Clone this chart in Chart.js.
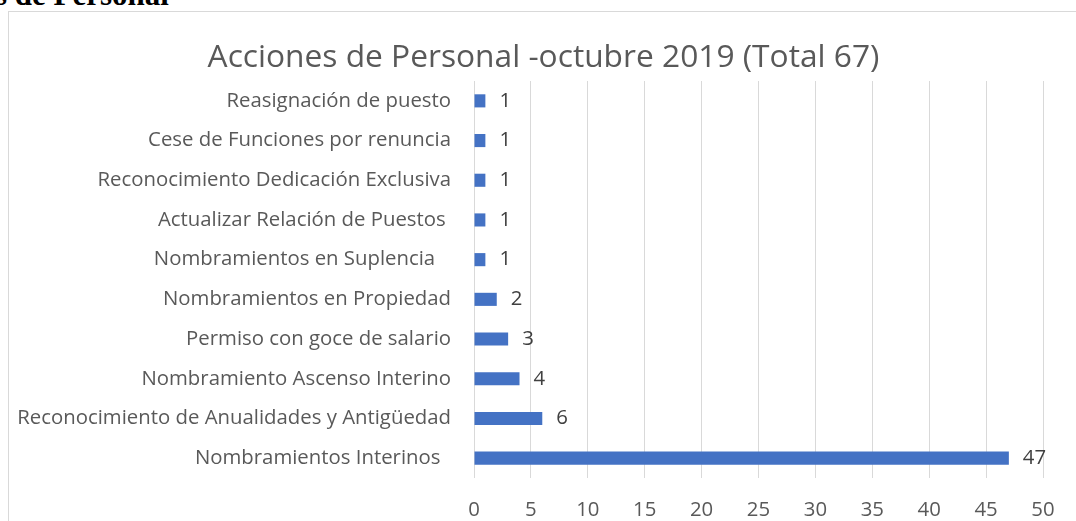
<!DOCTYPE html>
<html>
<head>
<meta charset="utf-8">
<script src="https://cdn.jsdelivr.net/npm/chart.js@4.4.1/dist/chart.umd.min.js"></script>
<style>
html,body{margin:0;padding:0;width:1076px;height:521px;overflow:hidden;background:#fff;}
#heading{position:absolute;left:-5px;top:-21px;font:bold 31px "Liberation Serif",serif;line-height:1;color:#000;white-space:nowrap;}
#box{position:absolute;left:8px;top:11px;width:1070px;height:530px;border-left:1px solid #d9d9d9;border-top:1px solid #d9d9d9;background:#fff;}
#box canvas{display:block;}
</style>
</head>
<body>
<div id="heading">s de Personal</div>
<div id="box"><canvas id="c" width="1070" height="520"></canvas></div>
<script>
const chartTitle = "Acciones de Personal -octubre 2019 (Total 67)";
const categories = [
  "Reasignación de puesto",
  "Cese de Funciones por renuncia",
  "Reconocimiento Dedicación Exclusiva",
  "Actualizar Relación de Puestos ",
  "Nombramientos en Suplencia   ",
  "Nombramientos en Propiedad",
  "Permiso con goce de salario",
  "Nombramiento Ascenso Interino",
  "Reconocimiento de Anualidades y Antigüedad",
  "Nombramientos Interinos  "
];
const values = [1, 1, 1, 1, 1, 2, 3, 4, 6, 47];
const xMin = 0;
const xMax = 50;
const xStep = 5;

const FONT = '"Open Sans"';
const mctx = document.createElement('canvas').getContext('2d');
function fitSize(text, target) {
  mctx.font = '100px ' + FONT;
  return 100 * target / mctx.measureText(text).width;
}
const longest = categories.reduce((a, b) => (b.trim().length > a.trim().length ? b : a));
const labelSize = fitSize(longest.trim(), 434);
const titleSize = fitSize(chartTitle, 672);

const valueLabels = {
  id: 'valueLabels',
  afterDatasetsDraw(chart) {
    const ctx = chart.ctx;
    const meta = chart.getDatasetMeta(0);
    ctx.save();
    ctx.font = labelSize + 'px ' + FONT;
    ctx.fillStyle = '#404040';
    ctx.textAlign = 'left';
    ctx.textBaseline = 'middle';
    meta.data.forEach((bar, i) => {
      ctx.fillText(String(values[i]), bar.x + 14, bar.y);
    });
    ctx.restore();
  }
};

new Chart(document.getElementById('c'), {
  type: 'bar',
  data: {
    labels: categories,
    datasets: [{
      data: values,
      backgroundColor: '#4472C4',
      borderWidth: 0,
      barPercentage: 0.33,
      categoryPercentage: 1
    }]
  },
  plugins: [valueLabels],
  options: {
    indexAxis: 'y',
    responsive: false,
    devicePixelRatio: 1,
    animation: false,
    layout: { padding: { left: 8, right: 9, top: 0, bottom: 10 } },
    plugins: {
      legend: { display: false },
      tooltip: { enabled: false },
      title: {
        display: true,
        text: chartTitle,
        color: '#595959',
        font: { family: FONT, size: titleSize, weight: 'normal', lineHeight: 1.2 },
        padding: { top: 69 - 4 - 1.2 * titleSize, bottom: 4 }
      }
    },
    scales: {
      x: {
        min: xMin,
        max: xMax,
        ticks: { stepSize: xStep, color: '#595959', font: { family: FONT, size: labelSize }, padding: 20, maxRotation: 0 },
        grid: { color: '#d9d9d9', lineWidth: 1, drawTicks: false },
        border: { display: false },
        afterFit(s) { s.height = 44; }
      },
      y: {
        ticks: { color: '#595959', font: { family: FONT, size: labelSize }, padding: 23, autoSkip: false },
        grid: { display: false, drawTicks: false },
        border: { display: false },
        afterFit(s) { s.width = 457; }
      },
      yRight: {
        type: 'linear',
        position: 'right',
        display: true,
        ticks: { display: false },
        grid: { display: false, drawTicks: false },
        border: { display: false },
        afterFit(s) { s.width = 27; }
      }
    }
  }
});
</script>
</body>
</html>
